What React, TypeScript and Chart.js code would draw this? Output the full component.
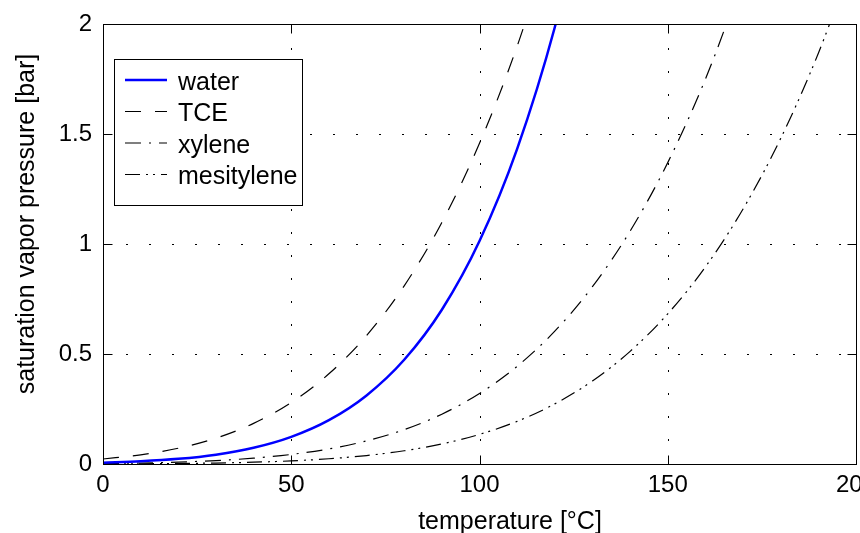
import React, { useEffect, useRef } from 'react';
import { Chart, registerables } from 'chart.js';

Chart.register(...registerables);

// ---- data ----
const temperatures = [0, 10, 20, 30, 40, 50, 60, 70, 80, 90, 100, 110, 120, 130, 140, 150, 160, 170, 180, 190, 200];
const water = [0.0061, 0.0123, 0.0234, 0.0425, 0.0738, 0.1234, 0.1993, 0.3118, 0.4737, 0.7012, 1.0133, 1.4327, 1.9854, 2.7011, null, null, null, null, null, null, null];
const tce = [0.0228, 0.0416, 0.0716, 0.1175, 0.1847, 0.2797, 0.41, 0.5837, 0.8099, 1.0976, 1.4576, 1.8992, 2.433, null, null, null, null, null, null, null, null];
const xylene = [0.0023, 0.0046, 0.0087, 0.0155, 0.0265, 0.0434, 0.0686, 0.105, 0.1562, 0.2264, 0.3205, 0.4441, 0.6037, 0.8061, 1.0585, 1.3699, 1.7492, 2.2046, null, null, null];
const mesitylene = [0.0005, 0.0011, 0.0023, 0.0044, 0.0081, 0.0142, 0.0238, 0.0385, 0.0601, 0.0912, 0.1346, 0.194, 0.2733, 0.3776, 0.512, 0.6826, 0.8958, 1.1591, 1.4801, 1.8672, 2.329];

const seriesNames = ['water', 'TCE', 'xylene', 'mesitylene'];
const seriesValues = [water, tce, xylene, mesitylene];
const xTicks = [0, 50, 100, 150, 200];
const yTicks = [0, 0.5, 1, 1.5, 2];
const xTitle = 'temperature [°C]';
const yTitle = 'saturation vapor pressure [bar]';

// ---- styles ----
const FONT = '"Liberation Sans", Arial, Helvetica, sans-serif';
const seriesStyles = [
  { color: '#0000ff', width: 2.5, dash: [] as number[] },
  { color: '#000000', width: 1.2, dash: [16, 14] },
  { color: '#000000', width: 1.2, dash: [16, 8, 2, 8] },
  { color: '#000000', width: 1.2, dash: [15, 6, 2, 5, 2, 6] },
];

const framePlugin = {
  id: 'frame',
  beforeDatasetsDraw(chart: any) {
    const { ctx, chartArea: a, scales } = chart;
    const x = scales.x, y = scales.y;
    ctx.save();
    ctx.strokeStyle = '#000';
    ctx.lineWidth = 1;
    ctx.setLineDash([2, 21]);
    xTicks.forEach((v) => {
      if (v <= x.min || v >= x.max) return;
      const px = Math.round(x.getPixelForValue(v)) + 0.5;
      ctx.beginPath();
      ctx.moveTo(px, a.bottom);
      ctx.lineTo(px, a.top);
      ctx.stroke();
    });
    yTicks.forEach((v) => {
      if (v <= y.min || v >= y.max) return;
      const py = Math.round(y.getPixelForValue(v)) + 0.5;
      ctx.beginPath();
      ctx.moveTo(a.left, py);
      ctx.lineTo(a.right, py);
      ctx.stroke();
    });
    ctx.restore();
  },
  afterDatasetsDraw(chart: any) {
    const { ctx, chartArea: a, scales } = chart;
    const x = scales.x, y = scales.y;
    const L = Math.round(a.left) + 0.5, R = Math.round(a.right) + 0.5;
    const T = Math.round(a.top) + 0.5, B = Math.round(a.bottom) + 0.5;
    ctx.save();
    ctx.setLineDash([]);
    ctx.strokeStyle = '#000';
    ctx.lineWidth = 1;
    ctx.strokeRect(L, T, R - L, B - T);
    const tl = 9;
    ctx.beginPath();
    xTicks.forEach((v) => {
      const px = Math.round(x.getPixelForValue(v)) + 0.5;
      ctx.moveTo(px, B); ctx.lineTo(px, B - tl);
      ctx.moveTo(px, T); ctx.lineTo(px, T + tl);
    });
    yTicks.forEach((v) => {
      const py = Math.round(y.getPixelForValue(v)) + 0.5;
      ctx.moveTo(L, py); ctx.lineTo(L + tl, py);
      ctx.moveTo(R, py); ctx.lineTo(R - tl, py);
    });
    ctx.stroke();

    // legend
    const bx = 114.5, by = 59.5, bw = 188, bh = 146;
    ctx.fillStyle = '#ffffff';
    ctx.fillRect(bx, by, bw, bh);
    ctx.strokeStyle = '#000';
    ctx.lineWidth = 1;
    ctx.strokeRect(bx, by, bw, bh);
    ctx.font = `25px ${FONT}`;
    ctx.textAlign = 'left';
    ctx.textBaseline = 'alphabetic';
    seriesNames.forEach((name, i) => {
      const ry = 80 + i * 31.5;
      const st = seriesStyles[i];
      ctx.strokeStyle = st.color;
      ctx.lineWidth = st.width;
      ctx.setLineDash(st.dash);
      ctx.beginPath();
      ctx.moveTo(125, ry);
      ctx.lineTo(167, ry);
      ctx.stroke();
      ctx.setLineDash([]);
      ctx.fillStyle = '#000';
      ctx.fillText(name, 178, ry + 9.5);
    });

    // axis titles
    ctx.fillStyle = '#000';
    ctx.font = `25px ${FONT}`;
    ctx.textAlign = 'center';
    ctx.textBaseline = 'alphabetic';
    ctx.fillText(xTitle, 510, 529);
    ctx.save();
    ctx.translate(34, 224);
    ctx.rotate(-Math.PI / 2);
    ctx.fillText(yTitle, 0, 0);
    ctx.restore();
    ctx.restore();
  },
};

export default function App() {
  const ref = useRef<HTMLCanvasElement | null>(null);
  useEffect(() => {
    if (!ref.current) return;
    const datasets = seriesNames.map((name, i) => {
      const vals = seriesValues[i];
      const pts = temperatures
        .map((t, k) => ({ x: t, y: vals[k] }))
        .filter((p) => p.y !== null);
      const st = seriesStyles[i];
      return {
        label: name,
        data: pts,
        borderColor: st.color,
        borderWidth: st.width,
        borderDash: st.dash,
        pointRadius: 0,
        fill: false,
        cubicInterpolationMode: 'monotone' as const,
      };
    });
    const chart = new Chart(ref.current, {
      type: 'line',
      data: { datasets },
      options: {
        animation: false,
        responsive: false,
        devicePixelRatio: 1,
        layout: { padding: { top: 24, right: 4, left: 0, bottom: 0 } },
        plugins: { legend: { display: false }, tooltip: { enabled: false } },
        scales: {
          x: {
            type: 'linear',
            min: 0,
            max: 200,
            grid: { display: false, drawTicks: false },
            border: { display: false },
            ticks: {
              stepSize: 50,
              autoSkip: false,
              maxRotation: 0,
              padding: 7,
              color: '#000',
              font: { family: FONT, size: 24 },
              callback: (v: any) => String(Number(v)),
            },
            afterFit: (s: any) => {
              s.height = 69;
              s.paddingLeft = 0;
              s.paddingRight = 0;
            },
          },
          y: {
            type: 'linear',
            min: 0,
            max: 2,
            grid: { display: false, drawTicks: false },
            border: { display: false },
            ticks: {
              stepSize: 0.5,
              padding: 11,
              color: '#000',
              font: { family: FONT, size: 24 },
              callback: (v: any) => String(Number(v)),
            },
            afterFit: (s: any) => {
              s.width = 103;
              s.paddingTop = 0;
              s.paddingBottom = 0;
            },
          },
        },
      },
      plugins: [framePlugin],
    });
    return () => chart.destroy();
  }, []);
  return (
    <div style={{ position: 'fixed', left: 0, top: 0, width: 860, height: 533, background: '#fff' }}>
      <canvas ref={ref} width={860} height={533} style={{ width: 860, height: 533, display: 'block' }} />
    </div>
  );
}
